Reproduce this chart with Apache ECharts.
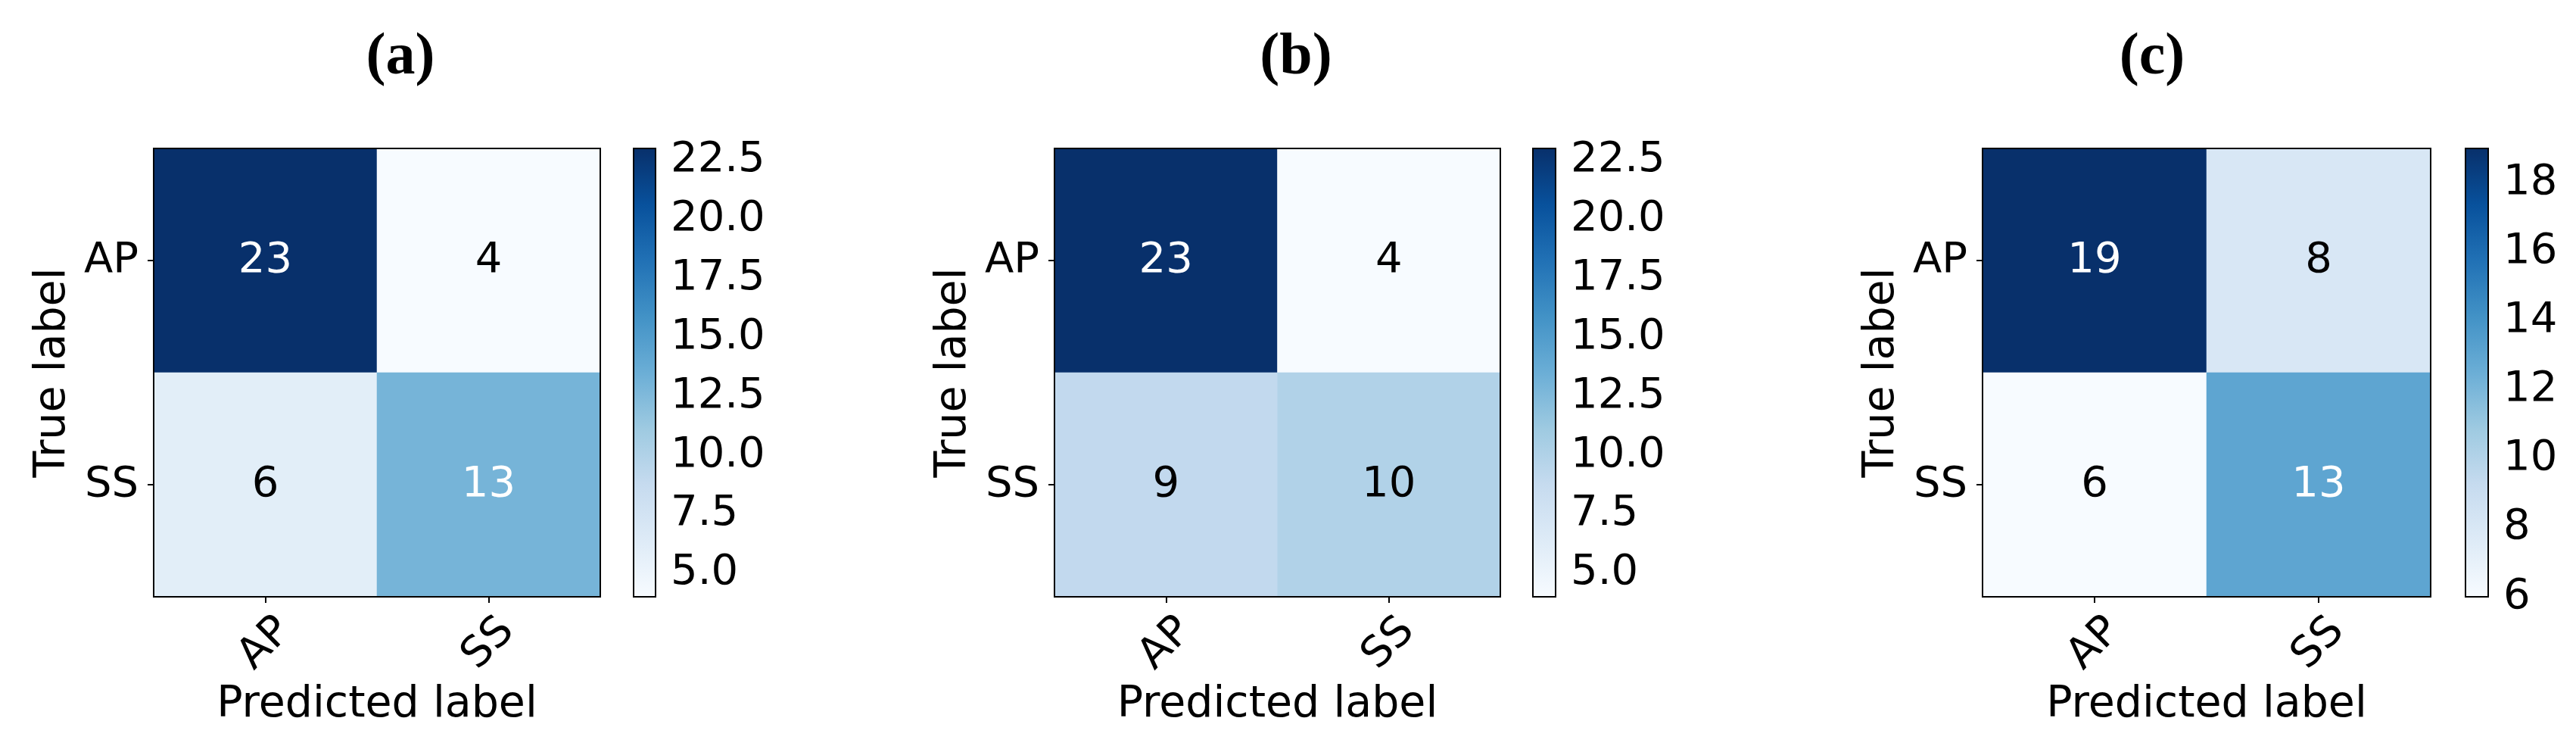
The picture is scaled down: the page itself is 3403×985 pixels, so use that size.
<!DOCTYPE html>
<html>
<head>
<meta charset="utf-8">
<script src="https://cdn.jsdelivr.net/npm/echarts@6/dist/echarts.min.js"></script>
<style>
  html, body { margin: 0; padding: 0; background: #fff; }
  #chart { width: 3403px; height: 985px; }
</style>
</head>
<body>
<div id="chart"></div>
<script>
// 数据
const classes = ['AP', 'SS']
const panelTitles = ['(a)', '(b)', '(c)']
const matrixA = [[23, 4], [6, 13]]
const matrixB = [[23, 4], [9, 10]]
const matrixC = [[19, 8], [6, 13]]
const colorbarTicksA = [5, 7.5, 10, 12.5, 15, 17.5, 20, 22.5]
const colorbarTicksB = [5, 7.5, 10, 12.5, 15, 17.5, 20, 22.5]
const colorbarTicksC = [6, 8, 10, 12, 14, 16, 18]
const tickDecimals = [1, 1, 0]

// matplotlib Blues
const blues = ['#f7fbff', '#deebf7', '#c6dbef', '#9ecae1', '#6baed6', '#4292c6', '#2171b5', '#08519c', '#08306b']

// 布局
const layout = [
  { heatLeft: 203, heatWidth: 590, barLeft: 837, barWidth: 29, titleX: 529 },
  { heatLeft: 1393, heatWidth: 589, barLeft: 2025, barWidth: 30, titleX: 1712 },
  { heatLeft: 2619, heatWidth: 592, barLeft: 3257, barWidth: 30, titleX: 2843 }
]
const TOP = 196
const HEIGHT = 592
const FONT = 'DejaVu Sans'

const matrices = [matrixA, matrixB, matrixC]
const colorbarTicks = [colorbarTicksA, colorbarTicksB, colorbarTicksC]

const chart = echarts.init(document.getElementById('chart'))

const title = []
const grid = []
const xAxis = []
const yAxis = []
const visualMap = []
const series = []

matrices.forEach((m, p) => {
  const L = layout[p]
  const flat = m.flat()
  const vmin = Math.min(...flat)
  const vmax = Math.max(...flat)
  const thresh = vmax / 2

  title.push({
    text: panelTitles[p],
    left: L.heatLeft + 0, top: 77,
    padding: 0,
    textAlign: 'center',
    textVerticalAlign: 'middle',
    textStyle: { fontFamily: 'Liberation Serif', fontWeight: 'bold', fontSize: 78, color: '#000' }
  })
  title[title.length - 1].left = L.titleX

  // 热力图网格
  grid.push({
    left: L.heatLeft, top: TOP, width: L.heatWidth, height: HEIGHT,
    show: true, z: 5, borderColor: '#000', borderWidth: 2, backgroundColor: 'transparent'
  })
  // 色条网格
  grid.push({
    left: L.barLeft, top: TOP, width: L.barWidth, height: HEIGHT,
    show: true, z: 5, borderColor: '#000', borderWidth: 2, backgroundColor: 'transparent'
  })
  const gHeat = p * 2
  const gBar = p * 2 + 1

  xAxis.push({
    gridIndex: gHeat,
    type: 'category',
    data: classes,
    position: 'bottom',
    name: 'Predicted label',
    nameLocation: 'middle',
    nameGap: 112,
    nameTextStyle: { fontFamily: FONT, fontSize: 57, color: '#000' },
    axisLine: { show: false },
    axisTick: { show: true, alignWithLabel: true, length: 8, lineStyle: { color: '#000', width: 2 } },
    axisLabel: {
      rotate: 45, align: 'center', verticalAlign: 'middle', margin: 62,
      fontFamily: FONT, fontSize: 56, color: '#000'
    },
    splitLine: { show: false }
  })
  yAxis.push({
    gridIndex: gHeat,
    type: 'category',
    data: classes,
    inverse: true,
    name: 'True label',
    nameLocation: 'middle',
    nameRotate: 90,
    nameGap: 104,
    nameTextStyle: { fontFamily: FONT, fontSize: 57, color: '#000' },
    axisLine: { show: false },
    axisTick: { show: true, alignWithLabel: true, length: 8, lineStyle: { color: '#000', width: 2 } },
    axisLabel: { margin: 20, fontFamily: FONT, fontSize: 56, color: '#000' },
    splitLine: { show: false }
  })

  // 色条坐标轴
  xAxis.push({
    gridIndex: gBar, type: 'value', min: 0, max: 1, show: false
  })
  yAxis.push({
    gridIndex: gBar,
    type: 'value',
    position: 'right',
    min: vmin,
    max: vmax,
    axisLine: { show: false },
    splitLine: { show: false },
    axisTick: {
      show: true, length: 8, customValues: colorbarTicks[p],
      lineStyle: { color: '#000', width: 2 }
    },
    axisLabel: {
      margin: 20, customValues: colorbarTicks[p],
      fontFamily: FONT, fontSize: 56, color: '#000',
      formatter: (v) => Number(v).toFixed(tickDecimals[p])
    }
  })

  const heatIndex = series.length
  visualMap.push({
    type: 'continuous',
    show: false,
    min: vmin,
    max: vmax,
    dimension: 2,
    seriesIndex: heatIndex,
    inRange: { color: blues }
  })

  const heatData = []
  m.forEach((row, r) => {
    row.forEach((v, c) => {
      heatData.push({
        value: [c, r, v],
        label: { color: v > thresh ? '#fff' : '#000' }
      })
    })
  })

  series.push({
    type: 'heatmap',
    xAxisIndex: gHeat,
    yAxisIndex: gHeat,
    data: heatData,
    label: {
      show: true,
      fontFamily: FONT,
      fontSize: 56,
      formatter: (pr) => String(pr.value[2])
    },
    emphasis: { disabled: true }
  })

  // 色条
  const stops = blues.map((c, i) => ({ offset: i / (blues.length - 1), color: c }))
  series.push({
    type: 'custom',
    xAxisIndex: gBar,
    yAxisIndex: gBar,
    data: [[vmin, vmax]],
    silent: true,
    renderItem: (params, api) => {
      const p0 = api.coord([0, api.value(0)])
      const p1 = api.coord([1, api.value(1)])
      return {
        type: 'rect',
        shape: { x: p0[0], y: p1[1], width: p1[0] - p0[0], height: p0[1] - p1[1] },
        style: { fill: new echarts.graphic.LinearGradient(0, 1, 0, 0, stops) }
      }
    }
  })
})

chart.setOption({
  animation: false,
  backgroundColor: '#fff',
  title,
  grid,
  xAxis,
  yAxis,
  visualMap,
  tooltip: { show: false },
  series
})
</script>
</body>
</html>
